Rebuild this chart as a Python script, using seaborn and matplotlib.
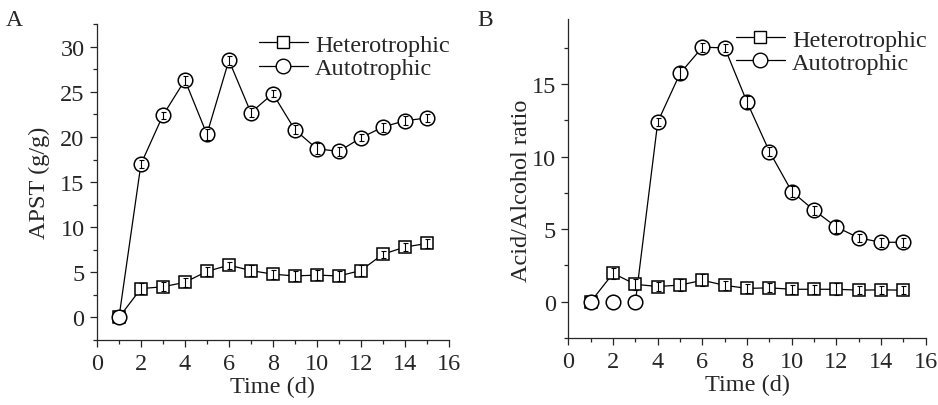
import matplotlib
matplotlib.use("Agg")
import matplotlib.pyplot as plt
from matplotlib.lines import Line2D
from matplotlib.ticker import MultipleLocator
import numpy as np
import seaborn as sns

# Data
days = [1, 2, 3, 4, 5, 6, 7, 8, 9, 10, 11, 12, 13, 14, 15]

apst_hetero = [0, 3.2, 3.4, 3.9, 5.1, 5.8, 5.2, 4.8, 4.6, 4.7, 4.6, 5.2, 7.0, 7.8, 8.2]
apst_auto = [0, 17.0, 22.4, 26.3, 20.3, 28.5, 22.7, 24.8, 20.8, 18.7, 18.4, 19.9, 21.1, 21.8, 22.1]
apst_hetero_err = [0, 0.6, 0.5, 0.5, 0.5, 0.4, 0.6, 0.5, 0.6, 0.6, 0.6, 0.6, 0.4, 0.4, 0.5]
apst_auto_err = [0, 0.4, 0.4, 0.5, 0.6, 0.5, 0.5, 0.4, 0.5, 0.6, 0.5, 0.4, 0.5, 0.5, 0.4]

ratio_hetero = [0, 1.96, 1.2, 1.05, 1.15, 1.48, 1.13, 0.92, 0.96, 0.86, 0.86, 0.86, 0.8, 0.82, 0.8]
ratio_auto = [0, 0, 0, 12.4, 15.75, 17.55, 17.5, 13.75, 10.35, 7.6, 6.3, 5.15, 4.4, 4.1, 4.1]
ratio_hetero_err = [0, 0.4, 0.4, 0.3, 0.4, 0.4, 0.3, 0.3, 0.3, 0.3, 0.3, 0.4, 0.3, 0.3, 0.3]
ratio_auto_err = [0, 0, 0, 0.3, 0.4, 0.3, 0.3, 0.4, 0.3, 0.4, 0.3, 0.4, 0.3, 0.3, 0.3]

sns.set_style("ticks")
plt.rcParams['font.family'] = ['Liberation Serif', 'DejaVu Serif']
plt.rcParams['font.size'] = 18

fig = plt.figure(figsize=(9.38, 4.06), dpi=100)
axA = fig.add_axes([0.1034, 0.160, 0.375, 0.778])
axB = fig.add_axes([0.606, 0.165, 0.381, 0.786])


def draw_series(ax, y, err, marker, ms, line_from=0):
    x = np.array(days)
    y = np.array(y)
    err = np.array(err)
    sns.lineplot(x=x[line_from:], y=y[line_from:], color='black', lw=0.9,
                 ax=ax, zorder=1)
    ax.plot(x, y, ls='none', marker=marker, ms=ms, mfc='white', mec='black',
            mew=1.1, zorder=3)
    has = err > 0
    ax.errorbar(x[has], y[has], yerr=err[has], fmt='none', ecolor='black',
                elinewidth=0.8, capsize=1.8, capthick=0.8, zorder=4)


draw_series(axA, apst_hetero, apst_hetero_err, 's', 8.5)
draw_series(axA, apst_auto, apst_auto_err, 'o', 10.5)
draw_series(axB, ratio_hetero, ratio_hetero_err, 's', 8.5)
draw_series(axB, ratio_auto, ratio_auto_err, 'o', 10.5, line_from=2)

axA.set_ylim(-2.5, 32.5)
axA.set_yticks([0, 5, 10, 15, 20, 25, 30])
axB.set_ylim(-2.5, 19.5)
axB.set_yticks([0, 5, 10, 15])
axA.set_ylabel("APST (g/g)", fontsize=17.5)
axB.set_ylabel("Acid/Alcohol ratio", fontsize=17.5)
axA.yaxis.set_label_coords(-0.134, 0.50)
axB.yaxis.set_label_coords(-0.103, 0.465)

handles = [
    Line2D([], [], color='black', lw=0.9, marker='s', ms=8.5, mfc='white', mec='black'),
    Line2D([], [], color='black', lw=0.9, marker='o', ms=10.5, mfc='white', mec='black'),
]

for ax in [axA, axB]:
    ax.set_xlim(0, 16)
    ax.set_xticks(range(0, 17, 2))
    ax.xaxis.set_minor_locator(MultipleLocator(1))
    ax.yaxis.set_minor_locator(MultipleLocator(2.5))
    ax.set_xlabel("Time (d)", fontsize=17.5, labelpad=2)
    ax.tick_params(which='major', length=5, width=0.9, labelsize=17.5, pad=4)
    ax.tick_params(which='minor', length=3, width=0.9)
    for s in ['left', 'bottom']:
        ax.spines[s].set_linewidth(0.9)
    sns.despine(ax=ax)
    ax.legend(handles, ["Heterotrophic", "Autotrophic"], loc='upper right',
              frameon=False, fontsize=17.5, handlelength=2.0, handletextpad=0.3,
              labelspacing=0.05, borderaxespad=0.0, bbox_to_anchor=(1.03, 1.0))

fig.text(0.006, 0.935, 'A', fontsize=17)
fig.text(0.509, 0.935, 'B', fontsize=17)

fig.savefig('out.png', dpi=100)
